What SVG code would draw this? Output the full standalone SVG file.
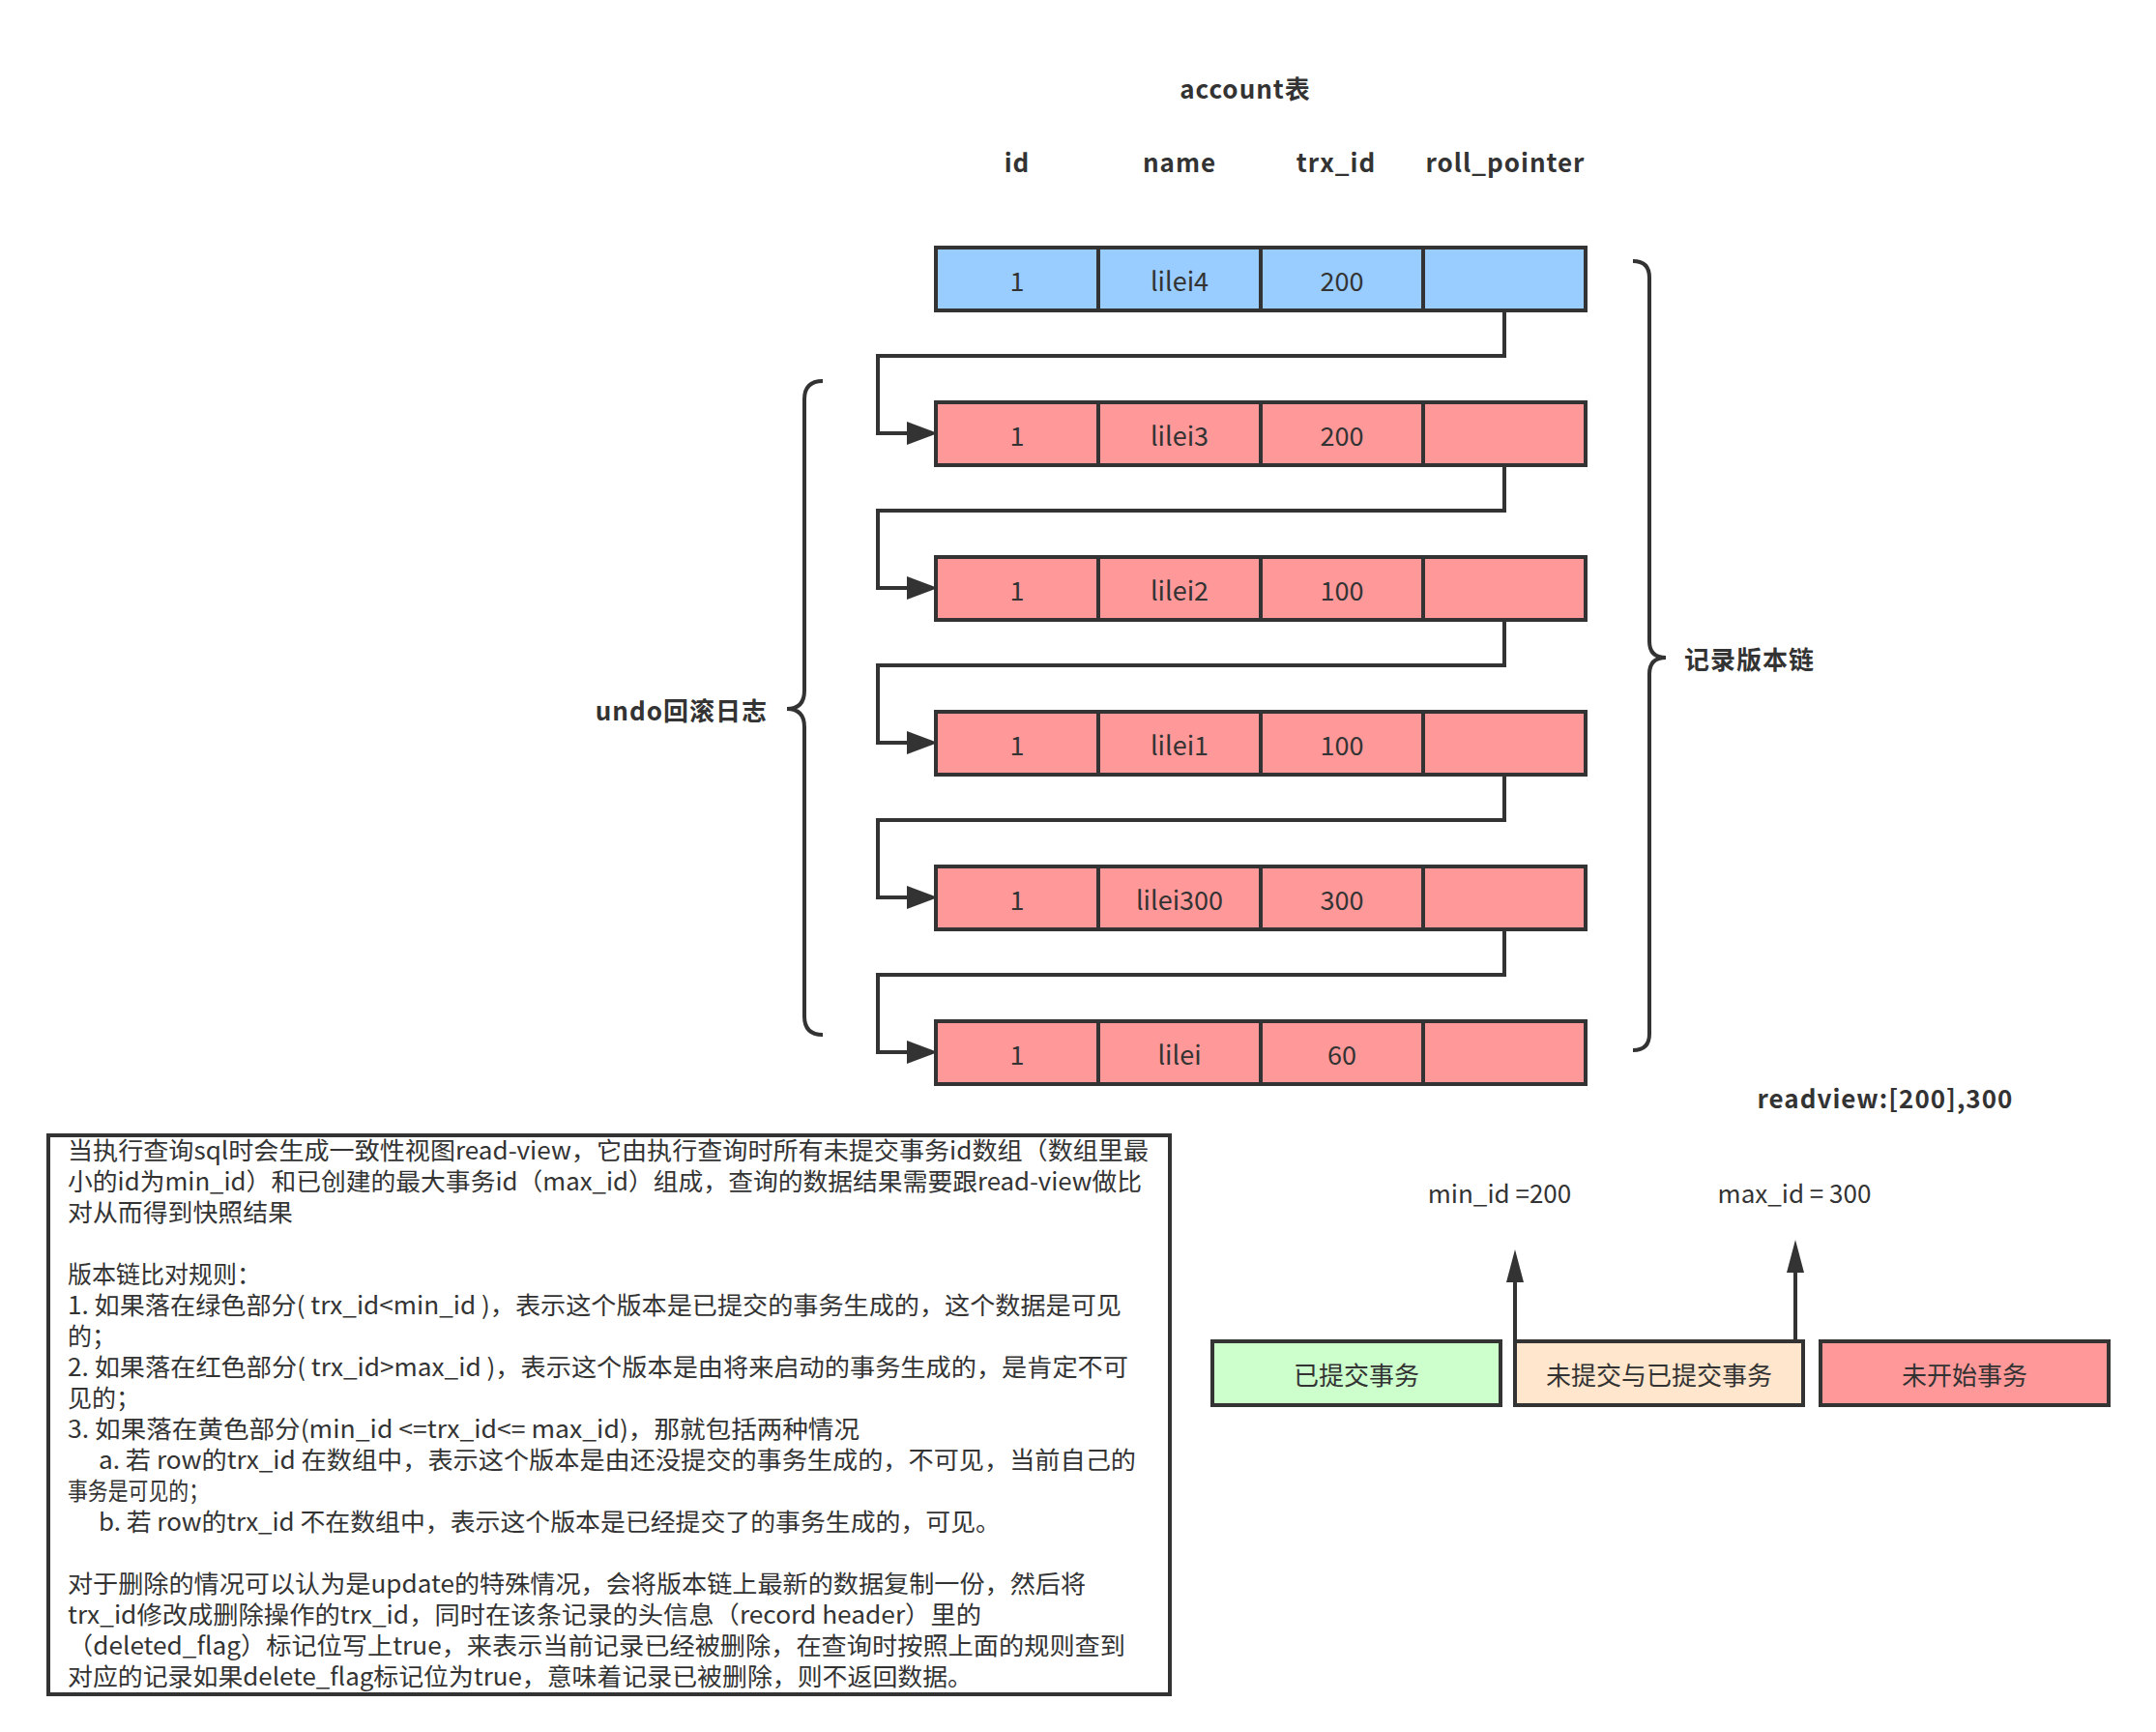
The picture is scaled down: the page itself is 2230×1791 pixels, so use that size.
<svg xmlns="http://www.w3.org/2000/svg" width="2230" height="1791" viewBox="0 0 2230 1791">
<style>
.cell{stroke:#333;stroke-width:4}
.blue{fill:#99CCFF}
.red{fill:#FF9999}
.ct{font-family:"Noto Sans CJK SC","Noto Sans",sans-serif;font-size:27px;fill:#333;text-anchor:middle;dominant-baseline:central}
.hd{font-family:"Noto Sans CJK SC","Noto Sans",sans-serif;font-size:26px;font-weight:bold;letter-spacing:1px;fill:#333;text-anchor:middle;dominant-baseline:central}
.lb{font-family:"Noto Sans CJK SC","Noto Sans",sans-serif;font-size:26px;font-weight:bold;letter-spacing:1px;fill:#333;dominant-baseline:central}
.conn{fill:none;stroke:#333;stroke-width:4}
.brace{fill:none;stroke:#333;stroke-width:4}
.tx{font-family:"Noto Sans CJK SC","Noto Sans",sans-serif;font-size:25px;fill:#333}
.lg{font-family:"Noto Sans CJK SC","Noto Sans",sans-serif;font-size:26px;fill:#333;text-anchor:middle;dominant-baseline:central}
</style>
<defs>
<marker id="arr" viewBox="0 0 32 24" refX="10" refY="12" markerWidth="32" markerHeight="24" markerUnits="userSpaceOnUse" orient="auto">
<path d="M0,0 L32,12 L0,24 Z" fill="#333"/>
</marker>
<marker id="arrUp" viewBox="0 0 34 18" refX="10" refY="9" markerWidth="34" markerHeight="18" markerUnits="userSpaceOnUse" orient="auto">
<path d="M0,0 L34,9 L0,18 Z" fill="#333"/>
</marker>
</defs>
<rect width="2230" height="1791" fill="#fff"/>

<g id="title">
<text class="hd" x="1288" y="90">account表</text>
<text class="hd" x="1052" y="166">id</text>
<text class="hd" x="1220" y="166">name</text>
<text class="hd" x="1382" y="166">trx_id</text>
<text class="hd" x="1557" y="166">roll_pointer</text>
</g>

<g id="connectors">
<path class="conn" d="M1556 321 V368 H908 V448 H948" marker-end="url(#arr)"/>
<path class="conn" d="M1556 481 V528 H908 V608 H948" marker-end="url(#arr)"/>
<path class="conn" d="M1556 641 V688 H908 V768 H948" marker-end="url(#arr)"/>
<path class="conn" d="M1556 801 V848 H908 V928 H948" marker-end="url(#arr)"/>
<path class="conn" d="M1556 961 V1008 H908 V1088 H948" marker-end="url(#arr)"/>
<path class="conn" d="M1567 1387 V1316" marker-end="url(#arrUp)"/>
<path class="conn" d="M1857 1387 V1306" marker-end="url(#arrUp)"/>
</g>

<g id="row-lilei4">
<rect class="cell blue" x="968" y="256" width="168" height="65"/>
<rect class="cell blue" x="1136" y="256" width="168" height="65"/>
<rect class="cell blue" x="1304" y="256" width="168" height="65"/>
<rect class="cell blue" x="1472" y="256" width="168" height="65"/>
<text class="ct" x="1052" y="289">1</text>
<text class="ct" x="1220" y="289">lilei4</text>
<text class="ct" x="1388" y="289">200</text>
</g>
<g id="row-lilei3">
<rect class="cell red" x="968" y="416" width="168" height="65"/>
<rect class="cell red" x="1136" y="416" width="168" height="65"/>
<rect class="cell red" x="1304" y="416" width="168" height="65"/>
<rect class="cell red" x="1472" y="416" width="168" height="65"/>
<text class="ct" x="1052" y="449">1</text>
<text class="ct" x="1220" y="449">lilei3</text>
<text class="ct" x="1388" y="449">200</text>
</g>
<g id="row-lilei2">
<rect class="cell red" x="968" y="576" width="168" height="65"/>
<rect class="cell red" x="1136" y="576" width="168" height="65"/>
<rect class="cell red" x="1304" y="576" width="168" height="65"/>
<rect class="cell red" x="1472" y="576" width="168" height="65"/>
<text class="ct" x="1052" y="609">1</text>
<text class="ct" x="1220" y="609">lilei2</text>
<text class="ct" x="1388" y="609">100</text>
</g>
<g id="row-lilei1">
<rect class="cell red" x="968" y="736" width="168" height="65"/>
<rect class="cell red" x="1136" y="736" width="168" height="65"/>
<rect class="cell red" x="1304" y="736" width="168" height="65"/>
<rect class="cell red" x="1472" y="736" width="168" height="65"/>
<text class="ct" x="1052" y="769">1</text>
<text class="ct" x="1220" y="769">lilei1</text>
<text class="ct" x="1388" y="769">100</text>
</g>
<g id="row-lilei300">
<rect class="cell red" x="968" y="896" width="168" height="65"/>
<rect class="cell red" x="1136" y="896" width="168" height="65"/>
<rect class="cell red" x="1304" y="896" width="168" height="65"/>
<rect class="cell red" x="1472" y="896" width="168" height="65"/>
<text class="ct" x="1052" y="929">1</text>
<text class="ct" x="1220" y="929">lilei300</text>
<text class="ct" x="1388" y="929">300</text>
</g>
<g id="row-lilei">
<rect class="cell red" x="968" y="1056" width="168" height="65"/>
<rect class="cell red" x="1136" y="1056" width="168" height="65"/>
<rect class="cell red" x="1304" y="1056" width="168" height="65"/>
<rect class="cell red" x="1472" y="1056" width="168" height="65"/>
<text class="ct" x="1052" y="1089">1</text>
<text class="ct" x="1220" y="1089">lilei</text>
<text class="ct" x="1388" y="1089">60</text>
</g>

<g id="undo-brace">
<path class="brace" d="M851 394 Q832 394 832 413 V714 Q832 733 814 733 Q832 733 832 752 V1051 Q832 1070 851 1070"/>
<text class="lb" x="794" y="733" text-anchor="end">undo回滚日志</text>
</g>
<g id="chain-brace">
<path class="brace" d="M1689 270 Q1706 270 1706 287 V663 Q1706 680 1723 680 Q1706 680 1706 697 V1069 Q1706 1086 1689 1086"/>
<text class="lb" x="1742" y="680">记录版本链</text>
</g>

<g id="readview">
<text class="hd" x="1950" y="1134">readview:[200],300</text>
<text class="lg" x="1551" y="1232">min_id =200</text>
<text class="lg" x="1856" y="1232">max_id = 300</text>
</g>

<g id="legend-committed">
<rect class="cell" x="1254" y="1387" width="298" height="66" fill="#CCFFCC"/>
<text class="lg" x="1403" y="1420">已提交事务</text>
</g>
<g id="legend-mixed">
<rect class="cell" x="1567" y="1387" width="298" height="66" fill="#FFE6CC"/>
<text class="lg" x="1716" y="1420">未提交与已提交事务</text>
</g>
<g id="legend-notstarted">
<rect class="cell" x="1883" y="1387" width="298" height="66" fill="#FF9999"/>
<text class="lg" x="2032" y="1420">未开始事务</text>
</g>

<g id="note">
<rect x="50" y="1174" width="1160" height="578" fill="#fff" stroke="#333" stroke-width="4"/>
<text class="tx" x="70" y="1199" textLength="1118" lengthAdjust="spacingAndGlyphs">当执行查询sql时会生成一致性视图read-view，它由执行查询时所有未提交事务id数组（数组里最</text>
<text class="tx" x="70" y="1231" textLength="1111" lengthAdjust="spacingAndGlyphs">小的id为min_id）和已创建的最大事务id（max_id）组成，查询的数据结果需要跟read-view做比</text>
<text class="tx" x="70" y="1263" textLength="233" lengthAdjust="spacingAndGlyphs">对从而得到快照结果</text>
<text class="tx" x="70" y="1327" textLength="200" lengthAdjust="spacingAndGlyphs">版本链比对规则：</text>
<text class="tx" x="70" y="1359" textLength="1090" lengthAdjust="spacingAndGlyphs">1. 如果落在绿色部分( trx_id&lt;min_id )，表示这个版本是已提交的事务生成的，这个数据是可见</text>
<text class="tx" x="70" y="1391">的；</text>
<text class="tx" x="70" y="1423" textLength="1097" lengthAdjust="spacingAndGlyphs">2. 如果落在红色部分( trx_id&gt;max_id )，表示这个版本是由将来启动的事务生成的，是肯定不可</text>
<text class="tx" x="70" y="1455">见的；</text>
<text class="tx" x="70" y="1487" textLength="819" lengthAdjust="spacingAndGlyphs">3. 如果落在黄色部分(min_id &lt;=trx_id&lt;= max_id)，那就包括两种情况</text>
<text class="tx" x="102" y="1519" textLength="1073" lengthAdjust="spacingAndGlyphs">a. 若 row的trx_id 在数组中，表示这个版本是由还没提交的事务生成的，不可见，当前自己的</text>
<text class="tx" x="70" y="1551" textLength="146" lengthAdjust="spacingAndGlyphs">事务是可见的；</text>
<text class="tx" x="102" y="1583" textLength="933" lengthAdjust="spacingAndGlyphs">b. 若 row的trx_id 不在数组中，表示这个版本是已经提交了的事务生成的，可见。</text>
<text class="tx" x="70" y="1647" textLength="1053" lengthAdjust="spacingAndGlyphs">对于删除的情况可以认为是update的特殊情况，会将版本链上最新的数据复制一份，然后将</text>
<text class="tx" x="70" y="1679" textLength="945" lengthAdjust="spacingAndGlyphs">trx_id修改成删除操作的trx_id，同时在该条记录的头信息（record header）里的</text>
<text class="tx" x="70" y="1711" textLength="1094" lengthAdjust="spacingAndGlyphs">（deleted_flag）标记位写上true，来表示当前记录已经被删除，在查询时按照上面的规则查到</text>
<text class="tx" x="70" y="1743" textLength="936" lengthAdjust="spacingAndGlyphs">对应的记录如果delete_flag标记位为true，意味着记录已被删除，则不返回数据。</text>
</g>
</svg>
